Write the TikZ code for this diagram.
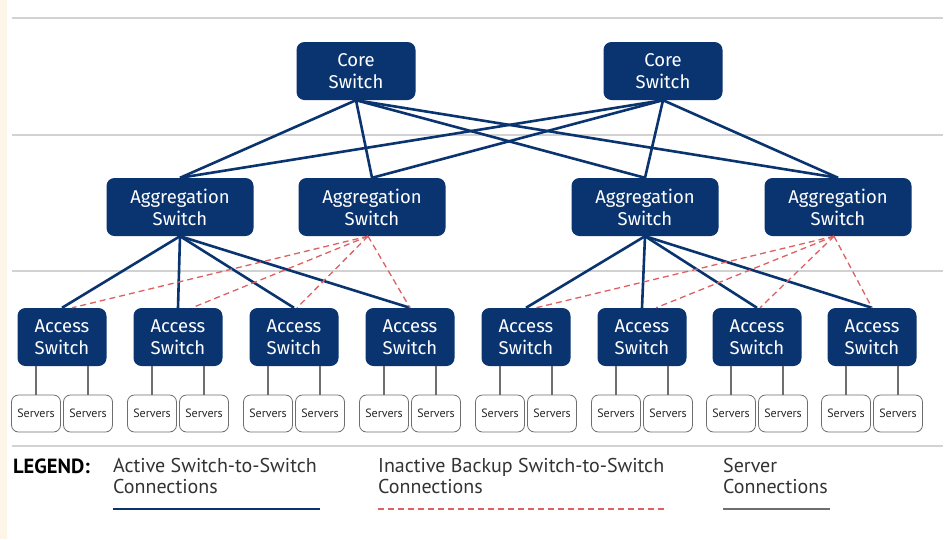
\documentclass[tikz,border=0pt]{standalone}
\usepackage{fontspec}
\setmainfont{Fira Sans}
\newfontfamily\legfont{PT Sans}
\definecolor{navy}{RGB}{10,52,112}
\definecolor{dashred}{RGB}{222,96,96}
\definecolor{srvgray}{RGB}{110,110,110}
\definecolor{sepgray}{RGB}{210,210,210}
\definecolor{cream}{RGB}{253,246,232}
\tikzset{
  swbox/.style={rectangle, rounded corners=8pt, fill=navy, text=white, align=center,
    minimum height=58pt, inner sep=0pt, font=\fontsize{18.5}{22}\selectfont},
  srvbox/.style={rectangle, rounded corners=7pt, draw=srvgray, line width=0.8pt, fill=white,
    minimum width=49pt, minimum height=37pt, inner sep=0pt, text=black!85,
    font=\legfont\fontsize{12}{13}\selectfont},
  sepline/.style={draw=sepgray, line width=2pt},
  active/.style={draw=navy, line width=2.6pt},
  backup/.style={draw=dashred, line width=1.3pt, dash pattern=on 6pt off 4pt},
  srvline/.style={draw=srvgray, line width=1.2pt},
  legtext/.style={anchor=north west, align=left, inner sep=0pt, text=black!80,
    font=\legfont\fontsize{20}{21}\selectfont},
}
\begin{document}
\begin{tikzpicture}[x=1pt,y=-1pt]
\useasboundingbox (0,0) rectangle (947,539);
\fill[white] (0,0) rectangle (947,539);
\fill[cream] (0,0) rectangle (7,539);
% separators
\draw[sepline] (12,18) -- (943,18);
\draw[sepline] (12,135) -- (943,135);
\draw[sepline] (12,271) -- (943,271);
\draw[sepline] (12,446) -- (943,446);

% core
\node[swbox, minimum width=119pt] (c1) at (356,71) {Core\\Switch};
\node[swbox, minimum width=119pt] (c2) at (663,71) {Core\\Switch};
% aggregation
\node[swbox, minimum width=147pt] (a1) at (180,207) {Aggregation\\Switch};
\node[swbox, minimum width=147pt] (a2) at (372,207) {Aggregation\\Switch};
\node[swbox, minimum width=147pt] (a3) at (645,207) {Aggregation\\Switch};
\node[swbox, minimum width=147pt] (a4) at (838,207) {Aggregation\\Switch};
% access
\foreach \i/\x in {1/62,2/178,3/294,4/410,5/526,6/642,7/757,8/872}{
  \node[swbox, minimum width=89pt] (x\i) at (\x,337) {Access\\Switch};
  \node[srvbox] (s\i a) at (\x-26,413.5) {Servers};
  \node[srvbox] (s\i b) at (\x+26,413.5) {Servers};
  \draw[srvline] (x\i.south -| s\i a) -- (s\i a.north);
  \draw[srvline] (x\i.south -| s\i b) -- (s\i b.north);
}

% core to aggregation
\foreach \c in {c1,c2}{
  \foreach \a in {a1,a2,a3,a4}{
    \draw[active] (\c.south) -- (\a.north);
  }
}
% aggregation to access (active)
\foreach \x in {x1,x2,x3,x4}{ \draw[active] (a1.south) -- (\x.north); }
\foreach \x in {x5,x6,x7,x8}{ \draw[active] (a3.south) -- (\x.north); }
% backup
\draw[backup] ([xshift=-4pt]a2.south) -- ([xshift=10pt]x1.north);
\draw[backup] ([xshift=-4pt]a2.south) -- ([xshift=14pt]x2.north);
\draw[backup] ([xshift=-4pt]a2.south) -- ([xshift=3pt]x3.north);
\draw[backup] ([xshift=-4pt]a2.south) -- (x4.north);
\draw[backup] ([xshift=-4pt]a4.south) -- ([xshift=10pt]x5.north);
\draw[backup] ([xshift=-4pt]a4.south) -- ([xshift=14pt]x6.north);
\draw[backup] ([xshift=-4pt]a4.south) -- ([xshift=3pt]x7.north);
\draw[backup] ([xshift=-4pt]a4.south) -- (x8.north);

% legend
\node[legtext, font=\legfont\bfseries\fontsize{20.5}{21}\selectfont, text=black] (lg) at (13,459) {LEGEND:};
\node[legtext] (l1) at (113,458) {Active Switch-to-Switch\\Connections};
\node[legtext] (l2) at (378,458) {Inactive Backup Switch-to-Switch\\Connections};
\node[legtext] (l3) at (723,458) {Server\\Connections};
\coordinate (l1a) at (113,509); \coordinate (l1b) at (320,509);
\coordinate (l2a) at (378,509); \coordinate (l2b) at (665,509);
\coordinate (l3a) at (723,509); \coordinate (l3b) at (830,509);
\draw[active] (l1a) -- (l1b);
\draw[backup] (l2a) -- (l2b);
\draw[srvline, line width=2.4pt] (l3a) -- (l3b);
\end{tikzpicture}
\end{document}
